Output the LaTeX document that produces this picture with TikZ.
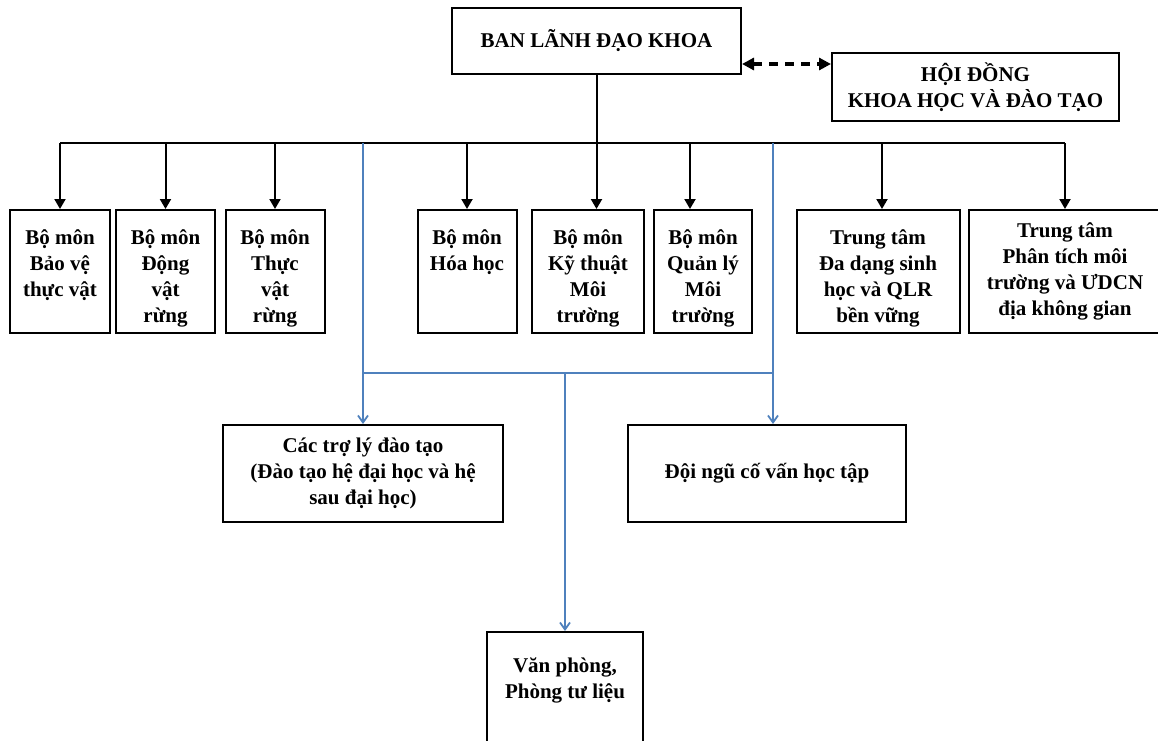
\documentclass[tikz,border=0pt]{standalone}
\usepackage{fontspec}
\setmainfont{Liberation Serif}
\usepackage{xcolor}
\usetikzlibrary{arrows.meta, positioning, calc}

\definecolor{staffblue}{HTML}{4F81BD}

\begin{document}
\begin{tikzpicture}[
    x=0.5pt, y=-0.5pt,
    font=\bfseries\fontsize{10.5}{13}\selectfont,
    box/.style={rectangle, draw, line width=1pt, align=center, inner sep=2pt},
    unit/.style={box, minimum height=61.5pt},
    caption/.style={align=center, inner sep=0pt, anchor=north},
    arrow/.style={-{Triangle[width=5.5pt, length=5pt]}, line width=1pt},
    link/.style={{Triangle[width=6pt, length=6pt]}-{Triangle[width=6pt, length=6pt]}, line width=1.8pt, dash pattern=on 4.5pt off 3.5pt},
    staff/.style={draw=staffblue, line width=0.9pt},
    staffarrow/.style={staff, -{Straight Barb[width=5pt, length=3.5pt]}}
]
    \useasboundingbox (0,0) rectangle (1158,740);

    % top level
    \node[box, minimum width=144.5pt, minimum height=33pt] (lead) at (596.5,41) {BAN LÃNH ĐẠO KHOA};
    \node[box, minimum width=143.5pt, minimum height=34pt] (council) at (975.5,87) {HỘI ĐỒNG\\KHOA HỌC VÀ ĐÀO TẠO};

    % departments and centres
    \node[unit, minimum width=50pt] (baove) at (60,271.5) {};
    \node[unit, minimum width=49.5pt] (dongvat) at (165.5,271.5) {};
    \node[unit, minimum width=49.5pt] (thucvat) at (275,271.5) {};
    \node[unit, minimum width=49.5pt] (hoahoc) at (467,271.5) {};
    \node[unit, minimum width=56pt] (kythuat) at (588,271.5) {};
    \node[unit, minimum width=49pt] (quanly) at (703,271.5) {};
    \node[unit, minimum width=81.5pt] (dadang) at (878,271.5) {};
    \node[unit, minimum width=96pt] (phantich) at (1065,271.5) {};

    \node[caption] (baoveText) at ([yshift=-10pt]baove.north) {Bộ môn\\Bảo vệ\\thực vật};
    \node[caption] (dongvatText) at ([yshift=-10pt]dongvat.north) {Bộ môn\\Động\\vật\\rừng};
    \node[caption] (thucvatText) at ([yshift=-10pt]thucvat.north) {Bộ môn\\Thực\\vật\\rừng};
    \node[caption] (hoahocText) at ([yshift=-10pt]hoahoc.north) {Bộ môn\\Hóa học};
    \node[caption] (kythuatText) at ([yshift=-10pt]kythuat.north) {Bộ môn\\Kỹ thuật\\Môi\\trường};
    \node[caption] (quanlyText) at ([yshift=-10pt]quanly.north) {Bộ môn\\Quản lý\\Môi\\trường};
    \node[caption] (dadangText) at ([yshift=-10pt]dadang.north) {Trung tâm\\Đa dạng sinh\\học và QLR\\bền vững};
    \node[caption] (phantichText) at ([yshift=-6.5pt]phantich.north) {Trung tâm\\Phân tích môi\\trường và ƯDCN\\địa không gian};

    % staff
    \node[box, minimum width=140pt, minimum height=48.5pt] (aide) at (363,473.5) {Các trợ lý đào tạo\\(Đào tạo hệ đại học và hệ\\sau đại học)};
    \node[box, minimum width=139pt, minimum height=48.5pt] (advisor) at (767,473.5) {Đội ngũ cố vấn học tập};
    \node[box, minimum width=78pt, minimum height=58pt] (office) at (565,690) {};
    \node[caption] (officeText) at ([yshift=-13pt]office.north) {Văn phòng,\\Phòng tư liệu};

    \coordinate (bus) at (596.5,143);
    \coordinate (hub) at (565,373);
    \coordinate (qlIn) at ([xshift=-6.5pt]quanly.north);
    \coordinate (ddIn) at ([xshift=2pt]dadang.north);
    \coordinate (adIn) at ([xshift=3pt]advisor.north);
    \coordinate (dashL) at ([yshift=5.5pt]lead.south east);

    \draw[link] (dashL) -- (dashL -| council.west);

    \draw[line width=1pt] (baove.north |- bus) -- (phantich.north |- bus);
    \draw[arrow] (lead.south) -- (lead.south |- kythuat.north);
    \draw[arrow] (baove.north |- bus) -- (baove.north);
    \draw[arrow] (dongvat.north |- bus) -- (dongvat.north);
    \draw[arrow] (thucvat.north |- bus) -- (thucvat.north);
    \draw[arrow] (hoahoc.north |- bus) -- (hoahoc.north);
    \draw[arrow] (qlIn |- bus) -- (qlIn);
    \draw[arrow] (ddIn |- bus) -- (ddIn);
    \draw[arrow] (phantich.north |- bus) -- (phantich.north);

    \draw[staff] (aide.north |- bus) -- (aide.north |- hub) -- (adIn |- hub) -- (adIn |- bus);
    \draw[staffarrow] (aide.north |- hub) -- (aide.north);
    \draw[staffarrow] (adIn |- hub) -- (adIn);
    \draw[staffarrow] (hub) -- (office.north);
\end{tikzpicture}
\end{document}
